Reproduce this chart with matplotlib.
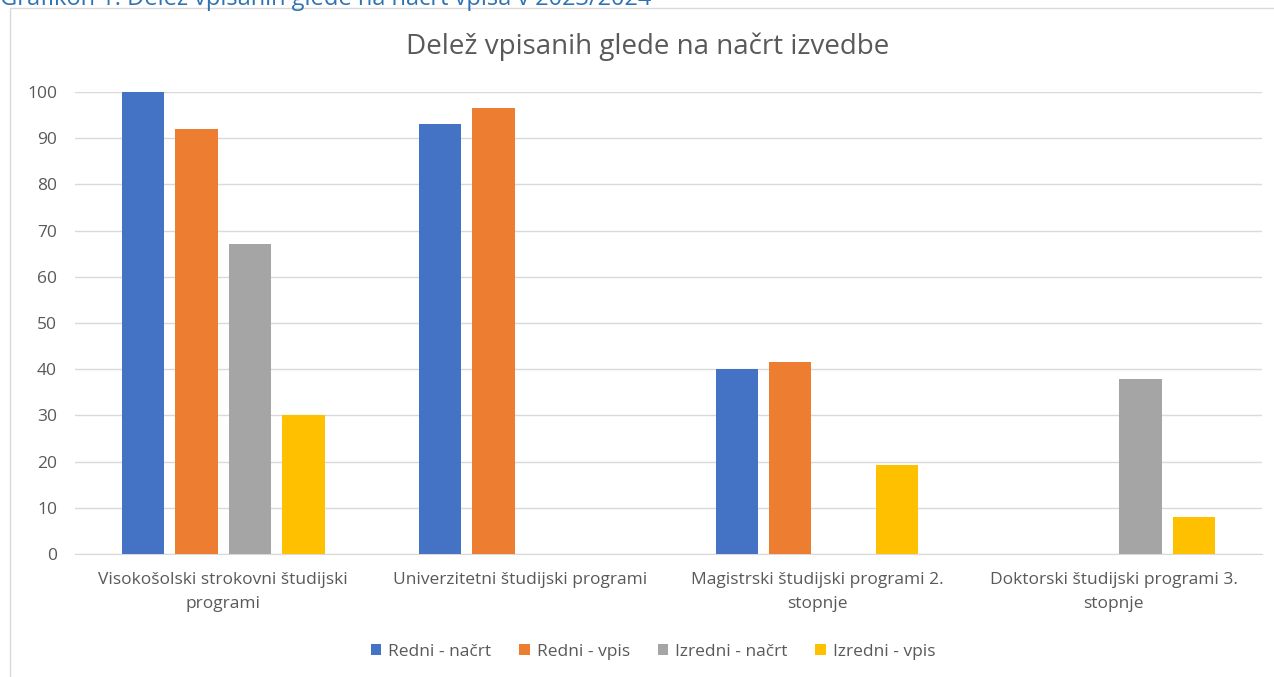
import numpy as np
import matplotlib
matplotlib.use("Agg")
import matplotlib.pyplot as plt
from matplotlib.patches import Rectangle

plt.rcParams['font.family'] = ['Open Sans', 'DejaVu Sans']

# Podatki
kategorije = ["Visokošolski strokovni študijski\nprogrami",
              "Univerzitetni študijski programi",
              "Magistrski študijski programi 2.\nstopnje",
              "Doktorski študijski programi 3.\nstopnje"]
serije = ["Redni - načrt", "Redni - vpis", "Izredni - načrt", "Izredni - vpis"]
redni_nacrt = [100, 93, 40, np.nan]
redni_vpis = [92, 96.6, 41.5, np.nan]
izredni_nacrt = [67, np.nan, np.nan, 37.8]
izredni_vpis = [30, np.nan, 19.2, 8]
barve = ["#4472C4", "#ED7D31", "#A5A5A5", "#FFC000"]

fig = plt.figure(figsize=(12.74, 6.77), dpi=100)

# okvir grafikona
fig.patches.append(Rectangle((10 / 1274, -0.05), 1.1, 1 - 8 / 677 + 0.05,
                             transform=fig.transFigure, fill=False,
                             edgecolor="#D9D9D9", linewidth=1))
fig.text(0.0, 1.0 + 1 / 677, "Grafikon 1: Delež vpisanih glede na načrt vpisa v 2023/2024",
         color="#2E74B5", fontsize=17, ha="left", va="center")

ax = fig.add_axes([75 / 1274, 1 - 554 / 677, (1262 - 75) / 1274, (554 - 92) / 677])

x = np.arange(len(kategorije))
odmiki = [-0.27, -0.09, 0.09, 0.27]
sirina = 0.143
for vrednosti, ime, barva, odmik in zip([redni_nacrt, redni_vpis, izredni_nacrt, izredni_vpis],
                                        serije, barve, odmiki):
    ax.bar(x + odmik, vrednosti, width=sirina, color=barva, label=ime, zorder=3)

ax.set_xlim(-0.5, 3.5)
ax.set_ylim(0, 100)
ax.set_yticks(range(0, 101, 10))
ax.grid(axis="y", color="#D9D9D9", linewidth=1, zorder=0)
for s in ["top", "right", "left"]:
    ax.spines[s].set_visible(False)
ax.spines["bottom"].set_color("#D9D9D9")
ax.tick_params(axis="both", length=0, colors="#595959", labelsize=12.5)
ax.tick_params(axis="y", pad=13)
ax.tick_params(axis="x", pad=13)
ax.set_xticks(x)
ax.set_xticklabels(kategorije, linespacing=1.65)

fig.text(648 / 1274, 1 - 47 / 677, "Delež vpisanih glede na načrt izvedbe",
         ha="center", va="center", fontsize=20, color="#595959")

fig.legend(loc="center", bbox_to_anchor=(653 / 1274, 1 - 652 / 677), ncol=4,
           frameon=False, fontsize=12.5, handlelength=0.6, handleheight=0.6,
           handletextpad=0.4, columnspacing=1.6, labelcolor="#595959")

plt.savefig("out.png", dpi=100)
